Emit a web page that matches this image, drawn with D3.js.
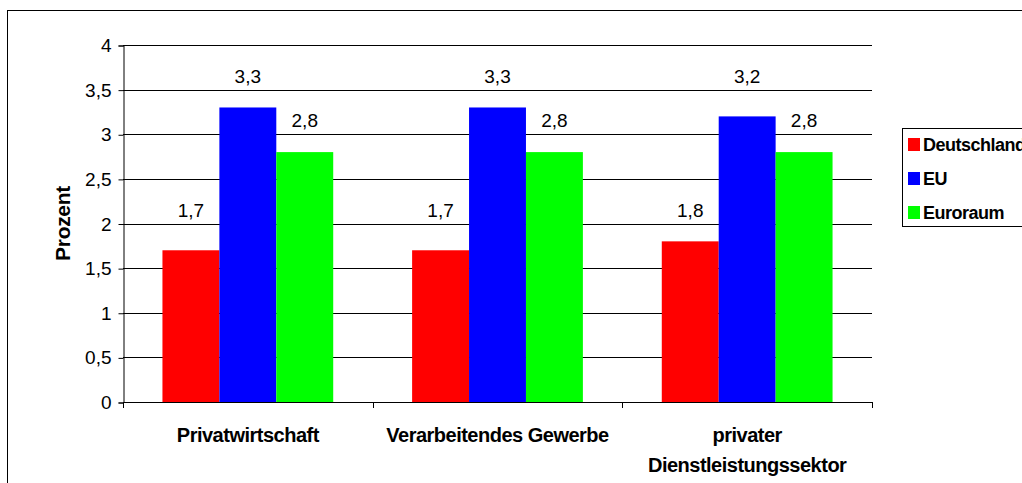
<!DOCTYPE html>
<html>
<head>
<meta charset="utf-8">
<script src="https://cdn.jsdelivr.net/npm/d3@7"></script>
<style>
  html, body { margin: 0; padding: 0; background: #fff; }
  svg { display: block; font-family: "Liberation Sans", Arial, sans-serif; }
</style>
</head>
<body>
<svg id="chart" width="1022" height="483"></svg>
<script>
// Sector categories (the third one wraps onto two lines)
const categories = ["Privatwirtschaft", "Verarbeitendes Gewerbe", "privater Dienstleistungssektor"];
const categoryLines = [["Privatwirtschaft"], ["Verarbeitendes Gewerbe"], ["privater", "Dienstleistungssektor"]];

// Series values in percent
const seriesNames = ["Deutschland", "EU", "Euroraum"];
const deutschland = [1.7, 1.7, 1.8];
const eu = [3.3, 3.3, 3.2];
const euroraum = [2.8, 2.8, 2.8];
const seriesValues = [deutschland, eu, euroraum];
const seriesColors = ["#ff0000", "#0000ff", "#00ff00"];

// Y axis ticks
const yTicks = [0, 0.5, 1, 1.5, 2, 2.5, 3, 3.5, 4];
const yTickLabels = ["0", "0,5", "1", "1,5", "2", "2,5", "3", "3,5", "4"];

const fmt = v => String(v).replace(".", ",");

const svg = d3.select("#chart");

// Outer chart frame
svg.append("rect")
  .attr("x", 7.5).attr("y", 10.5)
  .attr("width", 1030).attr("height", 490)
  .attr("fill", "none").attr("stroke", "#000").attr("stroke-width", 1);

const plot = { left: 123, right: 872, top: 45, bottom: 402 };

const y = d3.scaleLinear().domain([0, 4]).range([plot.bottom, plot.top]);
const x0 = d3.scaleBand().domain(categories)
  .range([plot.left, plot.right])
  .paddingInner(0.316).paddingOuter(0.158);
const x1 = d3.scaleBand().domain(seriesNames).range([0, x0.bandwidth()]).padding(0);
const step = x0.step();

// Horizontal gridlines
svg.append("g")
  .selectAll("line")
  .data(yTicks.filter(t => t > 0))
  .join("line")
  .attr("x1", plot.left).attr("x2", plot.right)
  .attr("y1", d => Math.round(y(d)) + 0.5).attr("y2", d => Math.round(y(d)) + 0.5)
  .attr("stroke", "#000").attr("stroke-width", 1);

// Bars
const groups = svg.append("g")
  .selectAll("g")
  .data(categories)
  .join("g")
  .attr("transform", d => `translate(${x0(d)},0)`);

groups.selectAll("rect")
  .data((c, i) => seriesNames.map((s, j) => ({ s, v: seriesValues[j][i], color: seriesColors[j] })))
  .join("rect")
  .attr("x", d => x1(d.s))
  .attr("width", x1.bandwidth())
  .attr("y", d => y(d.v))
  .attr("height", d => y(0) - y(d.v))
  .attr("fill", d => d.color);

// Value labels sit just above the next half-unit gridline over each bar
groups.selectAll("text")
  .data((c, i) => seriesNames.map((s, j) => ({ s, v: seriesValues[j][i] })))
  .join("text")
  .attr("x", d => x1(d.s) + x1.bandwidth() / 2)
  .attr("y", d => y(Math.ceil(d.v * 2) / 2) - 7)
  .attr("text-anchor", "middle")
  .attr("font-size", 19)
  .attr("fill", "#000")
  .text(d => fmt(d.v));

// Y axis
const yAxis = d3.axisLeft(y)
  .tickValues(yTicks)
  .tickFormat((d, i) => yTickLabels[i])
  .tickSize(5)
  .tickPadding(7);
const gy = svg.append("g")
  .attr("transform", `translate(${plot.left + 0.5},0.5)`)
  .call(yAxis);
gy.select(".domain").attr("stroke", "#000");
gy.selectAll(".tick line").attr("stroke", "#000");
gy.selectAll(".tick text")
  .attr("font-size", 19)
  .attr("font-family", "Liberation Sans, Arial, sans-serif")
  .attr("fill", "#000");

// X axis baseline and category separators
svg.append("line")
  .attr("x1", plot.left).attr("x2", plot.right)
  .attr("y1", plot.bottom + 0.5).attr("y2", plot.bottom + 0.5)
  .attr("stroke", "#000");
const boundaries = d3.range(categories.length + 1).map(i => plot.left + i * step);
svg.append("g")
  .selectAll("line")
  .data(boundaries)
  .join("line")
  .attr("x1", d => Math.round(d) + 0.5).attr("x2", d => Math.round(d) + 0.5)
  .attr("y1", plot.bottom).attr("y2", plot.bottom + 6)
  .attr("stroke", "#000");

// Category labels
const catLabels = svg.append("g")
  .selectAll("text")
  .data(categories)
  .join("text")
  .attr("x", d => x0(d) + x0.bandwidth() / 2)
  .attr("y", 442)
  .attr("text-anchor", "middle")
  .attr("font-size", 20)
  .attr("font-weight", "bold")
  .attr("letter-spacing", -0.5)
  .attr("fill", "#000");
catLabels.each(function(d, i) {
  const t = d3.select(this);
  const cx = x0(d) + x0.bandwidth() / 2;
  categoryLines[i].forEach((line, k) => {
    t.append("tspan").attr("x", cx).attr("dy", k === 0 ? 0 : 30).text(line);
  });
});

// Y axis title
svg.append("text")
  .attr("transform", `translate(70,${(plot.top + plot.bottom) / 2}) rotate(-90)`)
  .attr("text-anchor", "middle")
  .attr("font-size", 21)
  .attr("font-weight", "bold")
  .attr("letter-spacing", -0.3)
  .attr("fill", "#000")
  .text("Prozent");

// Legend
const legend = svg.append("g");
legend.append("rect")
  .attr("x", 902.5).attr("y", 128.5)
  .attr("width", 140).attr("height", 98)
  .attr("fill", "#fff").attr("stroke", "#000");
const items = legend.selectAll("g.item")
  .data(seriesNames)
  .join("g")
  .attr("class", "item")
  .attr("transform", (d, i) => `translate(908,${138 + i * 34})`);
items.append("rect")
  .attr("width", 12).attr("height", 13)
  .attr("fill", (d, i) => seriesColors[i]);
items.append("text")
  .attr("x", 15).attr("y", 13)
  .attr("font-size", 18)
  .attr("font-weight", "bold")
  .attr("letter-spacing", -0.5)
  .attr("fill", "#000")
  .text(d => d);
</script>
</body>
</html>
